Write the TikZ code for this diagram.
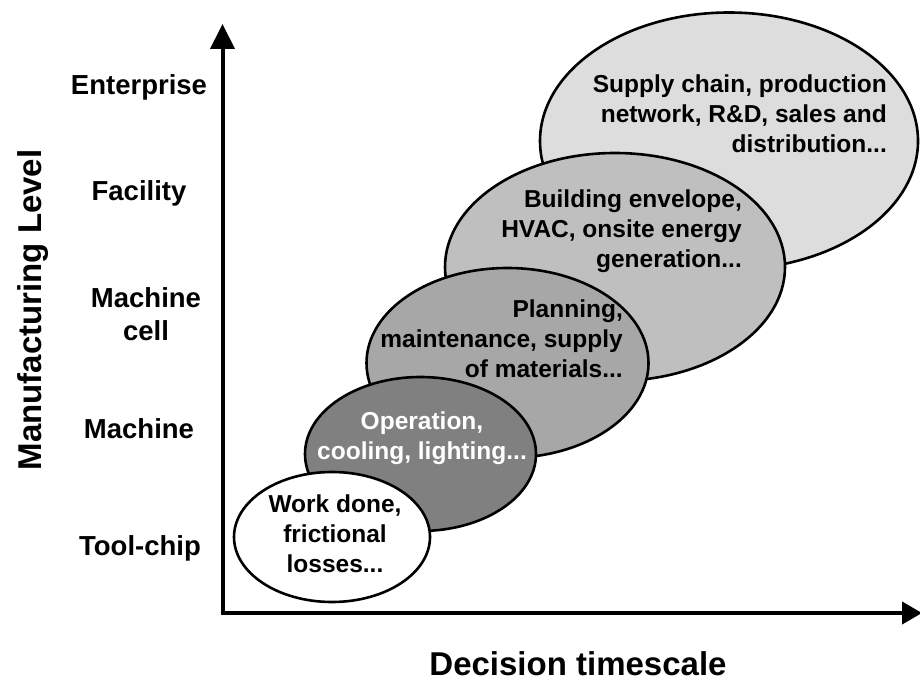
\documentclass[tikz,border=0pt]{standalone}
\usepackage{fontspec}
\setmainfont{Liberation Sans}
\usetikzlibrary{shapes.geometric,arrows.meta}
\definecolor{gfive}{gray}{0.865}
\definecolor{gfour}{gray}{0.75}
\definecolor{gthree}{gray}{0.655}
\definecolor{gtwo}{gray}{0.50}
\begin{document}
\begin{tikzpicture}[x=1pt,y=-1pt,
  blob/.style={ellipse, draw=black, line width=2.6pt, inner sep=0pt},
  lvl/.style={font=\fontsize{27.5}{33}\selectfont\bfseries, inner sep=0pt, align=center},
  etext/.style={font=\fontsize{24.5}{30}\selectfont\bfseries, inner sep=0pt},
  axisline/.style={line width=4pt, line join=miter},
  title/.style={font=\fontsize{33}{36}\selectfont\bfseries, inner sep=0pt}]
\useasboundingbox (0,0) rectangle (920,684);
% axes
\coordinate (O) at (222.5,613);
\coordinate (Ytop) at (222.5,24);
\coordinate (Xend) at (922,613);
\draw[axisline, {Triangle[length=25pt,width=24pt]}-{Triangle[length=20pt,width=22pt]}] (Ytop) -- (O) -- (Xend);
% ellipses
\node[blob, fill=gfive, minimum width=378pt, minimum height=257pt] (e5) at (729,141) {};
\node[blob, fill=gfour, minimum width=340pt, minimum height=228pt] (e4) at (615,267) {};
\node[blob, fill=gthree, minimum width=282pt, minimum height=190pt] (e3) at (507.5,363) {};
\node[blob, fill=gtwo, minimum width=231pt, minimum height=154pt] (e2) at (420.5,454) {};
\node[blob, fill=white, minimum width=196pt, minimum height=130pt] (e1) at (332,537) {};
% ellipse texts
\node[etext, align=right, anchor=north east] (t5) at (887,75) {Supply chain, production\\network, R\&D, sales and\\distribution...};
\node[etext, align=right, anchor=north east] (t4) at (742,190) {Building envelope,\\HVAC, onsite energy\\generation...};
\node[etext, align=right, anchor=north east] (t3) at (623,300) {Planning,\\maintenance, supply\\of materials...};
\node[etext, align=center, anchor=north, text=white] (t2) at (422,412) {Operation,\\cooling, lighting...};
\node[etext, align=center, anchor=north] (t1) at (335,495) {Work done,\\frictional\\losses...};
% level labels
\node[lvl, anchor=base] (l5) at (139,95) {Enterprise};
\node[lvl, anchor=base] (l4) at (139,201) {Facility};
\node[lvl, anchor=north] (l3) at (146,287) {Machine\\cell};
\node[lvl, anchor=base] (l2) at (139,438) {Machine};
\node[lvl, anchor=base] (l1) at (140,555) {Tool-chip};
% axis titles
\node[title, anchor=base, rotate=90] (ytitle) at (41,310) {Manufacturing Level};
\node[title, anchor=base] (xtitle) at (578,675) {Decision timescale};
\end{tikzpicture}
\end{document}
